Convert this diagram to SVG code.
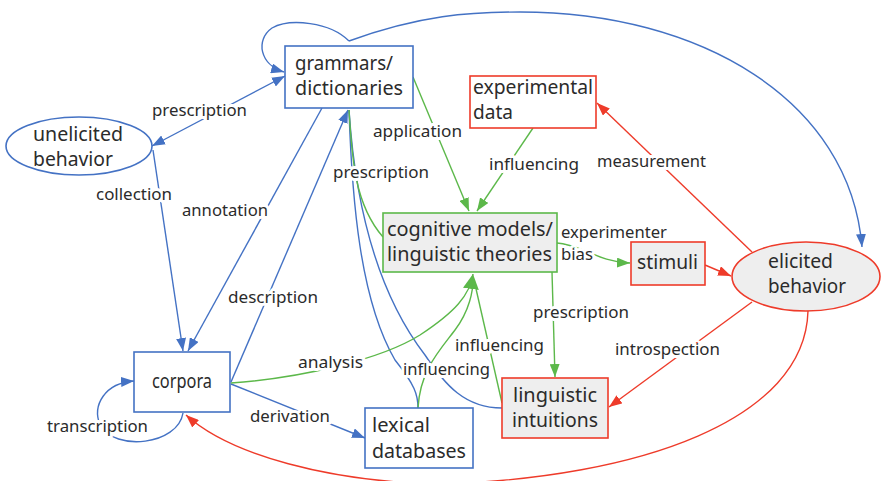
<svg xmlns="http://www.w3.org/2000/svg" width="881" height="481" viewBox="0 0 881 481">
<style>
text{font-family:"Noto Sans","Open Sans","Liberation Sans",sans-serif;fill:#2b2b2b}
.n{font-size:19.5px}
.l{font-size:16.5px;stroke:#fff;stroke-width:6px;stroke-linejoin:round;paint-order:stroke}
.b{stroke:#4472c4}
.g{stroke:#5cb84a}
.r{stroke:#ee3b2a}
.c path{fill:none;stroke-width:1.4}
.box{stroke-width:1.6}
</style>
<defs>
<marker id="ab" markerUnits="userSpaceOnUse" markerWidth="14" markerHeight="10" refX="13" refY="5" orient="auto-start-reverse"><path d="M0,0 L13,5 L0,10 z" fill="#4472c4"/></marker>
<marker id="ag" markerUnits="userSpaceOnUse" markerWidth="14" markerHeight="10" refX="13" refY="5" orient="auto"><path d="M0,0 L13,5 L0,10 z" fill="#5cb84a"/></marker>
<marker id="agb" markerUnits="userSpaceOnUse" markerWidth="16" markerHeight="16" refX="15" refY="8" orient="auto"><path d="M0,0 L15,8 L0,16 z" fill="#5cb84a"/></marker>
<marker id="ar" markerUnits="userSpaceOnUse" markerWidth="14" markerHeight="10" refX="13" refY="5" orient="auto"><path d="M0,0 L13,5 L0,10 z" fill="#ee3b2a"/></marker>
</defs>

<g id="connectors" class="c">
<path class="b" d="M349,41 C330,22 290,18 272,28 C255,40 260,65 284,72" marker-end="url(#ab)"/>
<path class="b" d="M349,41 C420,15 470,12 520,12 C700,12 850,100 862,247" marker-end="url(#ab)"/>
<path class="b" d="M152,146 L285,76" marker-start="url(#ab)" marker-end="url(#ab)"/>
<path class="b" d="M153,150 L183,351" marker-end="url(#ab)"/>
<path class="b" d="M322,108 L188,351" marker-end="url(#ab)"/>
<path class="b" d="M231,382 L348,110" marker-end="url(#ab)"/>
<path class="b" d="M349,110 C352,200 360,300 395,360 C415,385 418,395 418,408"/>
<path class="b" d="M349,110 C355,200 375,290 425,355 C445,385 465,408 502,408"/>
<path class="b" d="M231,384 L365,438" marker-end="url(#ab)"/>
<path class="b" d="M183,413 C178,445 115,452 100,425 C92,405 105,383 134,381" marker-end="url(#ab)"/>

<path class="g" d="M349,110 C352,160 355,205 383,237"/>
<path class="g" d="M413,77 L469,211" marker-end="url(#ag)"/>
<path class="g" d="M533,128 L477,211" marker-end="url(#ag)"/>
<path class="g" d="M557,243 C580,244 598,262 630,263" marker-end="url(#ag)"/>
<path class="g" d="M552,272 L555,377" marker-end="url(#ag)"/>
<path class="g" d="M502,403 L474,280"/>
<path class="g" d="M418,408 C420,370 440,350 455,330 C470,310 473,290 473,280"/>
<path class="g" d="M231,383 C300,378 380,360 420,335 C455,312 470,295 473,274" marker-end="url(#agb)"/>

<path class="r" d="M752,252 L597,103" marker-end="url(#ar)"/>
<path class="r" d="M705,265 L731,276" marker-end="url(#ar)"/>
<path class="r" d="M752,302 L609,407" marker-end="url(#ar)"/>
<path class="r" d="M808,311 C805,420 640,478 440,484 C330,482 230,455 186,415" marker-end="url(#ar)"/>
</g>

<g id="labels">
<text class="l" x="152" y="116" textLength="95" lengthAdjust="spacingAndGlyphs">prescription</text>
<text class="l" x="96" y="200" textLength="76" lengthAdjust="spacingAndGlyphs">collection</text>
<text class="l" x="182" y="216" textLength="86" lengthAdjust="spacingAndGlyphs">annotation</text>
<text class="l" x="373" y="137" textLength="89" lengthAdjust="spacingAndGlyphs">application</text>
<text class="l" x="333" y="178" textLength="96" lengthAdjust="spacingAndGlyphs">prescription</text>
<text class="l" x="489" y="170" textLength="90" lengthAdjust="spacingAndGlyphs">influencing</text>
<text class="l" x="597" y="167" textLength="109" lengthAdjust="spacingAndGlyphs">measurement</text>
<text class="l" x="561" y="238" textLength="106" lengthAdjust="spacingAndGlyphs">experimenter</text>
<text class="l" x="561" y="260" textLength="32" lengthAdjust="spacingAndGlyphs">bias</text>
<text class="l" x="228" y="303" textLength="90" lengthAdjust="spacingAndGlyphs">description</text>
<text class="l" x="298" y="368" textLength="65" lengthAdjust="spacingAndGlyphs">analysis</text>
<text class="l" x="403" y="375" textLength="87" lengthAdjust="spacingAndGlyphs">influencing</text>
<text class="l" x="455" y="351" textLength="89" lengthAdjust="spacingAndGlyphs">influencing</text>
<text class="l" x="533" y="318" textLength="96" lengthAdjust="spacingAndGlyphs">prescription</text>
<text class="l" x="615" y="355" textLength="105" lengthAdjust="spacingAndGlyphs">introspection</text>
<text class="l" x="250" y="422" textLength="80" lengthAdjust="spacingAndGlyphs">derivation</text>
<text class="l" x="47" y="432" textLength="101" lengthAdjust="spacingAndGlyphs">transcription</text>
</g>

<g id="grammars">
<rect class="box b" x="285" y="46" width="128" height="62" fill="#fff"/>
<text class="n" x="295" y="70" textLength="98" lengthAdjust="spacingAndGlyphs">grammars/</text>
<text class="n" x="295" y="95" textLength="108" lengthAdjust="spacingAndGlyphs">dictionaries</text>
</g>
<g id="unelicited">
<ellipse class="box b" cx="79" cy="146" rx="73" ry="29" fill="#fff"/>
<text class="n" x="33" y="141" textLength="90" lengthAdjust="spacingAndGlyphs">unelicited</text>
<text class="n" x="33" y="166" textLength="80" lengthAdjust="spacingAndGlyphs">behavior</text>
</g>
<g id="experimental">
<rect class="box r" x="470" y="76" width="126" height="52" fill="#fff"/>
<text class="n" x="473" y="94" textLength="120" lengthAdjust="spacingAndGlyphs">experimental</text>
<text class="n" x="473" y="119" textLength="40" lengthAdjust="spacingAndGlyphs">data</text>
</g>
<g id="cognitive">
<rect class="box g" x="383" y="213" width="174" height="59" fill="#eeeeee"/>
<text class="n" x="387" y="236" textLength="166" lengthAdjust="spacingAndGlyphs">cognitive models/</text>
<text class="n" x="387" y="261" textLength="165" lengthAdjust="spacingAndGlyphs">linguistic theories</text>
</g>
<g id="stimuli">
<rect class="box r" x="631" y="242" width="74" height="43" fill="#eeeeee"/>
<text class="n" x="637" y="269" textLength="61" lengthAdjust="spacingAndGlyphs">stimuli</text>
</g>
<g id="elicited">
<ellipse class="box r" cx="806" cy="276.5" rx="74" ry="34.5" fill="#eeeeee"/>
<text class="n" x="768" y="268" textLength="65" lengthAdjust="spacingAndGlyphs">elicited</text>
<text class="n" x="768" y="293" textLength="78" lengthAdjust="spacingAndGlyphs">behavior</text>
</g>
<g id="intuitions">
<rect class="box r" x="502" y="378" width="106" height="60" fill="#eeeeee"/>
<text class="n" x="513" y="402" textLength="84" lengthAdjust="spacingAndGlyphs">linguistic</text>
<text class="n" x="512" y="427" textLength="86" lengthAdjust="spacingAndGlyphs">intuitions</text>
</g>
<g id="lexical">
<rect class="box b" x="365" y="408" width="108" height="60" fill="#fff"/>
<text class="n" x="372" y="432" textLength="58" lengthAdjust="spacingAndGlyphs">lexical</text>
<text class="n" x="372" y="458" textLength="94" lengthAdjust="spacingAndGlyphs">databases</text>
</g>
<g id="corpora">
<rect class="box b" x="134" y="352" width="96" height="60" fill="#fff"/>
<text class="n" x="152" y="388" textLength="60" lengthAdjust="spacingAndGlyphs">corpora</text>
</g>
</svg>
